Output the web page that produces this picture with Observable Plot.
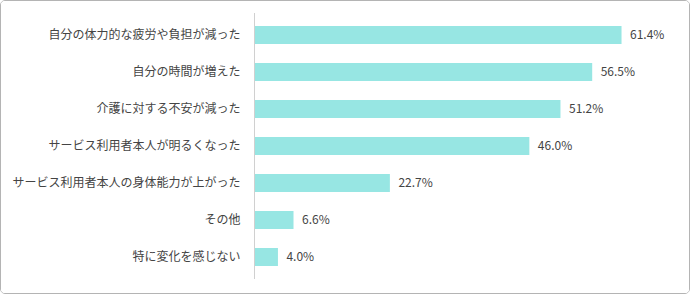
<!DOCTYPE html>
<html><head><meta charset="utf-8">
<script src="https://cdn.jsdelivr.net/npm/d3@7"></script>
<script src="https://cdn.jsdelivr.net/npm/@observablehq/plot@0.6"></script>
<style>
html,body{margin:0;padding:0;background:#fff;}
#box{width:690px;height:294px;box-sizing:border-box;border:1px solid #b4b4b4;border-radius:5px;overflow:hidden;}
#box svg{display:block;}
</style></head>
<body><div id="box"></div>
<script>
const categories = ["自分の体力的な疲労や負担が減った","自分の時間が増えた","介護に対する不安が減った","サービス利用者本人が明るくなった","サービス利用者本人の身体能力が上がった","その他","特に変化を感じない"];
const values = [61.4,56.5,51.2,46.0,22.7,6.6,4.0];
const data = categories.map((c,i)=>({c, v: values[i]}));
const chart = Plot.plot({
  width: 688, height: 292,
  marginLeft: 253, marginRight: 16, marginTop: 12, marginBottom: 14,
  style: {fontFamily: "'Noto Sans CJK JP', sans-serif", fontSize: "12px", color: "#444", background: "#fff"},
  x: {domain: [0, 70], axis: null},
  y: {domain: categories, paddingInner: 0.523, paddingOuter: 0.285, label: null},
  marks: [
    Plot.barX(data, {y: "c", x: "v", fill: "#97e6e3"}),
    Plot.ruleX([0], {stroke: "#d0d0d0"}),
    Plot.axisY({tickSize: 0, tickPadding: 14, fontSize: 12, fill: "#444", label: null}),
    Plot.text(data, {y: "c", x: "v", text: d => d.v.toFixed(1) + "%", textAnchor: "start", dx: 8, fontSize: 12, fill: "#444"})
  ]
});
document.getElementById("box").appendChild(chart);
</script></body></html>
